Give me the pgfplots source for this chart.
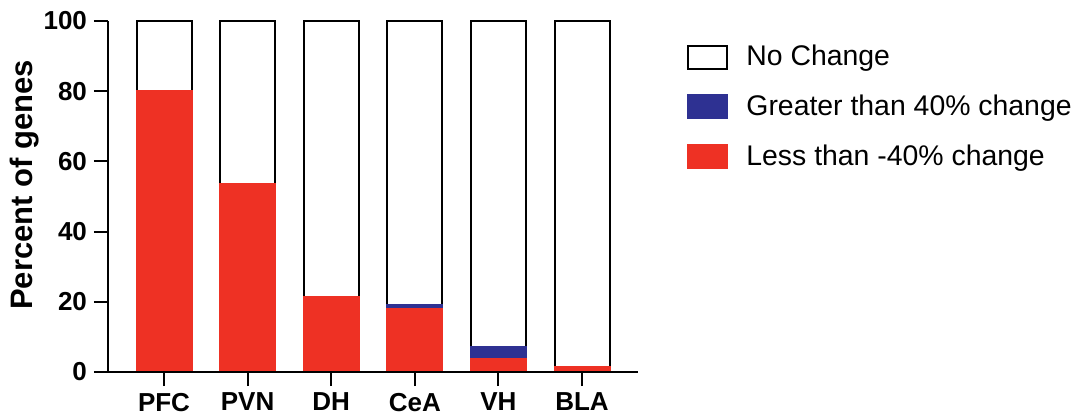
\documentclass[border=0pt]{standalone}
\usepackage{pgfplots}
\pgfplotsset{compat=1.18}
\usepackage{fontspec}
\setmainfont{Liberation Sans}
\definecolor{cred}{RGB}{238,49,36}
\definecolor{cblue}{RGB}{46,49,146}
\begin{document}
\begin{tikzpicture}
\begin{axis}[
  at={(0,0)}, anchor=south west,
  scale only axis, width=265pt, height=175.5pt,
  xmin=-0.67, xmax=5.67, ymin=0, ymax=100,
  axis lines*=left,
  axis line style={line width=1pt},
  xtick={0,1,2,3,4,5},
  xticklabels={PFC,PVN,DH,CeA,VH,BLA},
  ytick={0,20,40,60,80,100},
  tick align=outside,
  major tick length=7pt,
  tick style={line width=1pt, black},
  /pgf/number format/assume math mode=true,
  tick label style={font=\bfseries\fontsize{13}{15}\selectfont},
  ylabel={Percent of genes},
  every axis y label/.style={at={(axis description cs:0,0.533)}, xshift=-41.5pt, rotate=90, anchor=center, font=\bfseries\fontsize{15.5}{18}\selectfont},
  ybar, bar width=27.5pt, bar shift=0pt,
  axis on top,
  legend style={at={(1,1)}, anchor=north west, xshift=24.5pt, yshift=-10pt, draw=none, fill=none,
    font=\fontsize{14.2}{17}\selectfont, row sep=9pt, cells={anchor=west}, inner sep=0pt},
  legend image code/.code={\draw[#1] (0pt,-5.75pt) rectangle (19.5pt,5.75pt);},
]
\addplot[fill=white, draw=black, line width=1pt] coordinates {(0,100) (1,100) (2,100) (3,100) (4,100) (5,100)};
\addlegendentry{\hspace{7pt}No Change}
\addplot[fill=cblue, draw=cblue, line width=1pt] coordinates {(0,80) (1,53.7) (2,21.5) (3,19.2) (4,7.2) (5,1.4)};
\addlegendentry{\hspace{7pt}Greater than 40\% change}
\addplot[fill=cred, draw=cred, line width=1pt] coordinates {(0,80) (1,53.7) (2,21.5) (3,18.0) (4,3.8) (5,1.4)};
\addlegendentry{\hspace{7pt}Less than -40\% change}
\end{axis}
\pgfresetboundingbox
\path (-54pt,-22pt) rectangle (483pt,186pt);
\end{tikzpicture}
\end{document}
